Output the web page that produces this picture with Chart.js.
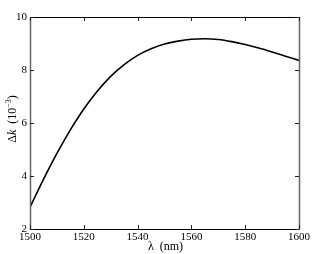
<!DOCTYPE html>
<html lang="en">
<head>
<meta charset="UTF-8">
<title>Delta k vs wavelength</title>
<script src="https://cdn.jsdelivr.net/npm/chart.js"></script>
<style>
    html, body { margin: 0; padding: 0; background: #fff; }
    #wrap { width: 312px; height: 254px; position: relative; }
</style>
</head>
<body>
<div id="wrap"><canvas id="dkChart"></canvas></div>
<script>
    // wavelength (nm) and Delta k (1e-3)
    const lambdaNm = [1500, 1505, 1510, 1515, 1520, 1525, 1530, 1535, 1540, 1545, 1550,
                      1555, 1560, 1565, 1570, 1575, 1580, 1585, 1590, 1595, 1600];
    const deltaK = [2.82, 3.87, 4.85, 5.74, 6.53, 7.2, 7.76, 8.2, 8.55, 8.8, 8.98,
                    9.09, 9.16, 9.18, 9.15, 9.07, 8.96, 8.83, 8.68, 8.52, 8.36];
    const xTicks = [1500, 1520, 1540, 1560, 1580, 1600];
    const yTicks = [2, 4, 6, 8, 10];

    const serif = 'Liberation Serif';

    // inward ticks on all four sides + axis titles
    const frame = {
        id: 'frame',
        afterDraw(chart) {
            const ctx = chart.ctx;
            const xs = chart.scales.x, ys = chart.scales.y;
            const a = chart.chartArea;
            ctx.save();
            ctx.lineWidth = 1;
            ctx.strokeStyle = '#000';
            ctx.beginPath();
            ctx.moveTo(a.left, a.top + 0.5); ctx.lineTo(a.right, a.top + 0.5);
            ctx.moveTo(a.left, a.bottom + 0.5); ctx.lineTo(a.right, a.bottom + 0.5);
            ctx.stroke();
            ctx.strokeStyle = '#666';
            ctx.lineWidth = 1.5;
            ctx.beginPath();
            ctx.moveTo(a.left + 0.5, a.top); ctx.lineTo(a.left + 0.5, a.bottom + 1);
            ctx.moveTo(a.right + 0.5, a.top); ctx.lineTo(a.right + 0.5, a.bottom + 1);
            ctx.stroke();

            ctx.strokeStyle = '#222';
            ctx.lineWidth = 1;
            ctx.beginPath();
            xTicks.forEach(v => {
                const px = Math.round(xs.getPixelForValue(v)) + 0.5;
                ctx.moveTo(px, a.bottom); ctx.lineTo(px, a.bottom - 4);
                ctx.moveTo(px, a.top); ctx.lineTo(px, a.top + 4);
            });
            yTicks.forEach(v => {
                const py = Math.round(ys.getPixelForValue(v)) + 0.5;
                ctx.moveTo(a.left, py); ctx.lineTo(a.left + 4, py);
                ctx.moveTo(a.right, py); ctx.lineTo(a.right - 4, py);
            });
            ctx.stroke();

            ctx.fillStyle = '#000';
            ctx.textBaseline = 'alphabetic';
            // x title
            ctx.font = '12px "' + serif + '"';
            ctx.textAlign = 'center';
            ctx.fillText('\u03bb  (nm)', (a.left + a.right) / 2 + 1, 250);

            // y title, rotated
            ctx.translate(16, 119);
            ctx.rotate(-Math.PI / 2);
            const parts = [
                ['\u0394', '12px "' + serif + '"', 0],
                ['k', 'italic 12px "' + serif + '"', 0],
                ['  (10', '12px "' + serif + '"', 0],
                ['\u22123', '8px "' + serif + '"', -5],
                [')', '12px "' + serif + '"', 0]
            ];
            let total = 0;
            parts.forEach(p => { ctx.font = p[1]; total += ctx.measureText(p[0]).width; });
            let x = -total / 2;
            ctx.textAlign = 'left';
            parts.forEach(p => {
                ctx.font = p[1];
                ctx.fillText(p[0], x, p[2]);
                x += ctx.measureText(p[0]).width;
            });
            ctx.restore();
        }
    };

    new Chart(document.getElementById('dkChart').getContext('2d'), {
        type: 'line',
        data: {
            datasets: [{
                data: lambdaNm.map((l, i) => ({ x: l, y: deltaK[i] })),
                borderColor: '#000',
                borderWidth: 1.6,
                pointRadius: 0,
                cubicInterpolationMode: 'monotone',
                fill: false
            }]
        },
        options: {
            responsive: true,
            maintainAspectRatio: false,
            animation: false,
            layout: { padding: { top: 17, right: 13, left: 0, bottom: 0 } },
            plugins: { legend: { display: false }, tooltip: { enabled: false } },
            scales: {
                x: {
                    type: 'linear',
                    min: 1500, max: 1600,
                    afterBuildTicks: s => { s.ticks = xTicks.map(v => ({ value: v })); },
                    afterFit: s => { s.height = 25; },
                    grid: { display: false, drawTicks: false },
                    border: { display: false },
                    ticks: {
                        color: '#000', padding: 2,
                        font: { family: serif, size: 11 },
                        maxRotation: 0,
                        callback: v => String(v)
                    }
                },
                y: {
                    type: 'linear',
                    min: 2, max: 10,
                    afterBuildTicks: s => { s.ticks = yTicks.map(v => ({ value: v })); },
                    afterFit: s => { s.width = 30; },
                    grid: { display: false, drawTicks: false },
                    border: { display: false },
                    ticks: {
                        color: '#000', padding: 3,
                        font: { family: serif, size: 11 },
                        callback: v => String(v)
                    }
                }
            }
        },
        plugins: [frame]
    });
</script>
</body>
</html>
